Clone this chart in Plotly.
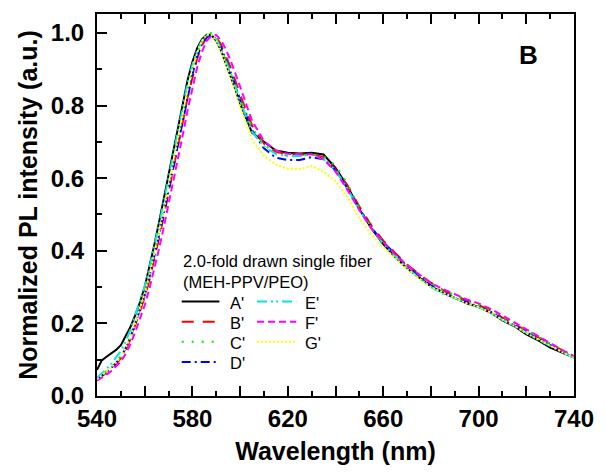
import plotly.graph_objects as go

wavelength = [540, 542, 544, 546, 548, 550, 552, 554, 556, 558, 560, 562, 564, 566, 568, 570,
              572, 574, 576, 578, 580, 582, 584, 586, 588, 590, 592, 594, 596, 598, 600,
              605, 610, 615, 620, 625, 630, 635, 640, 645, 650, 655, 660, 665, 670, 675,
              680, 685, 690, 695, 700, 705, 710, 715, 720, 725, 730, 735, 740]

A_prime = [0.072, 0.098, 0.108, 0.117, 0.127, 0.140, 0.163, 0.190, 0.222, 0.258, 0.300, 0.355,
           0.415, 0.478, 0.545, 0.610, 0.675, 0.745, 0.810, 0.870, 0.920, 0.958, 0.982, 0.995,
           0.994, 0.978, 0.952, 0.918, 0.882, 0.845, 0.805,
           0.725, 0.700, 0.676, 0.670, 0.668, 0.670, 0.665, 0.628, 0.578, 0.515, 0.462, 0.418,
           0.383, 0.352, 0.328, 0.302, 0.285, 0.270, 0.255, 0.245, 0.230, 0.208, 0.192, 0.170,
           0.153, 0.133, 0.120, 0.106]
B_prime = [0.045, 0.054, 0.064, 0.075, 0.088, 0.104, 0.127, 0.156, 0.193, 0.232, 0.272, 0.320,
           0.374, 0.434, 0.495, 0.558, 0.622, 0.690, 0.756, 0.822, 0.880, 0.930, 0.965, 0.988,
           0.995, 0.988, 0.968, 0.938, 0.905, 0.868, 0.830,
           0.745, 0.695, 0.672, 0.666, 0.665, 0.666, 0.658, 0.625, 0.580, 0.522, 0.470, 0.428,
           0.394, 0.362, 0.336, 0.312, 0.292, 0.276, 0.264, 0.250, 0.236, 0.216, 0.198, 0.178,
           0.160, 0.142, 0.124, 0.108]
C_prime = [0.048, 0.058, 0.068, 0.080, 0.094, 0.110, 0.134, 0.164, 0.202, 0.243, 0.284, 0.335,
           0.390, 0.451, 0.514, 0.579, 0.644, 0.714, 0.780, 0.844, 0.898, 0.945, 0.976, 0.994,
           1.000, 0.987, 0.962, 0.930, 0.895, 0.858, 0.820,
           0.738, 0.692, 0.668, 0.662, 0.662, 0.666, 0.660, 0.635, 0.585, 0.518, 0.465, 0.424,
           0.390, 0.360, 0.334, 0.310, 0.290, 0.279, 0.265, 0.250, 0.238, 0.218, 0.202, 0.182,
           0.163, 0.145, 0.128, 0.108]
D_prime = [0.045, 0.055, 0.066, 0.077, 0.091, 0.107, 0.131, 0.161, 0.198, 0.238, 0.277, 0.327,
           0.381, 0.441, 0.502, 0.566, 0.630, 0.700, 0.765, 0.830, 0.885, 0.935, 0.968, 0.988,
           0.993, 0.982, 0.960, 0.928, 0.893, 0.855, 0.815,
           0.732, 0.682, 0.656, 0.650, 0.650, 0.658, 0.652, 0.622, 0.572, 0.515, 0.464, 0.424,
           0.390, 0.358, 0.330, 0.305, 0.286, 0.270, 0.259, 0.245, 0.232, 0.212, 0.195, 0.176,
           0.158, 0.139, 0.122, 0.105]
E_prime = [0.050, 0.062, 0.075, 0.089, 0.105, 0.124, 0.150, 0.182, 0.222, 0.263, 0.302, 0.354,
           0.410, 0.471, 0.535, 0.600, 0.665, 0.735, 0.800, 0.862, 0.912, 0.952, 0.978, 0.993,
           0.996, 0.982, 0.958, 0.925, 0.890, 0.852, 0.812,
           0.728, 0.688, 0.666, 0.661, 0.661, 0.665, 0.652, 0.622, 0.572, 0.512, 0.462, 0.420,
           0.385, 0.353, 0.325, 0.300, 0.282, 0.270, 0.255, 0.244, 0.230, 0.210, 0.193, 0.173,
           0.155, 0.138, 0.121, 0.105]
F_prime = [0.042, 0.050, 0.059, 0.069, 0.081, 0.095, 0.116, 0.142, 0.176, 0.212, 0.250, 0.296,
           0.348, 0.405, 0.465, 0.527, 0.590, 0.655, 0.720, 0.788, 0.850, 0.905, 0.948, 0.978,
           0.992, 0.994, 0.980, 0.955, 0.924, 0.890, 0.852,
           0.758, 0.702, 0.676, 0.667, 0.666, 0.666, 0.652, 0.618, 0.568, 0.512, 0.462, 0.424,
           0.390, 0.360, 0.335, 0.311, 0.295, 0.280, 0.266, 0.255, 0.240, 0.222, 0.203, 0.183,
           0.165, 0.146, 0.127, 0.110]
G_prime = [0.046, 0.057, 0.067, 0.079, 0.092, 0.108, 0.132, 0.162, 0.200, 0.241, 0.282, 0.333,
           0.388, 0.449, 0.512, 0.578, 0.644, 0.714, 0.780, 0.845, 0.900, 0.946, 0.978, 0.995,
           0.995, 0.978, 0.950, 0.915, 0.878, 0.838, 0.798,
           0.705, 0.662, 0.637, 0.626, 0.625, 0.634, 0.617, 0.592, 0.548, 0.490, 0.445, 0.410,
           0.380, 0.350, 0.324, 0.300, 0.285, 0.270, 0.255, 0.245, 0.230, 0.210, 0.193, 0.173,
           0.157, 0.139, 0.121, 0.105]

series_names = ["A'", "B'", "C'", "D'", "E'", "F'", "G'"]
series_values = [A_prime, B_prime, C_prime, D_prime, E_prime, F_prime, G_prime]
series_colors = ["#000000", "#ff0000", "#00ee00", "#0000ff", "#00e5e5", "#ff00ff", "#ffff00"]
series_dash = ["solid", "12px,9px", "2px,8px", "9px,4px,2px,4px", "10px,4px,2px,3px,2px,4px",
               "7px,4px", "2px,2px"]

legend_title_lines = ["2.0-fold drawn single fiber", "(MEH-PPV/PEO)"]

x_tickvals = [540, 560, 580, 600, 620, 640, 660, 680, 700, 720, 740]
x_ticktext = ["540", "", "580", "", "620", "", "660", "", "700", "", "740"]
y_tickvals = [0.0, 0.2, 0.4, 0.6, 0.8, 1.0]
y_ticktext = ["0.0", "0.2", "0.4", "0.6", "0.8", "1.0"]

fig = go.Figure()
for name, vals, col, dash in zip(series_names, series_values, series_colors, series_dash):
    fig.add_trace(go.Scatter(x=wavelength, y=vals, mode="lines", name=name,
                             line=dict(color=col, width=2, dash=dash), showlegend=False))

FONT = "Liberation Sans, Arial, sans-serif"
LEG_FS = 16.5

# Hand-built legend (two columns under a two-line title), placed in paper coordinates
shapes = []
annotations = []
title_y = [0.353, 0.299]
for txt, yy in zip(legend_title_lines, title_y):
    annotations.append(dict(text=txt, x=0.177, y=yy, xref="paper", yref="paper", showarrow=False,
                            xanchor="left", yanchor="middle", font=dict(size=LEG_FS, family=FONT)))
col_x = [(0.1776, 0.2566, 0.2745), (0.3354, 0.4177, 0.4323)]
row_y = [0.2442, 0.1915, 0.1388, 0.0861]
for i, (name, col, dash) in enumerate(zip(series_names, series_colors, series_dash)):
    c = 0 if i < 4 else 1
    r = i if i < 4 else i - 4
    x0, x1, xt = col_x[c]
    yy = row_y[r]
    shapes.append(dict(type="line", xref="paper", yref="paper", x0=x0, x1=x1, y0=yy + 0.003, y1=yy + 0.003,
                       line=dict(color=col, width=2, dash=dash)))
    annotations.append(dict(text=name, x=xt, y=yy, xref="paper", yref="paper", showarrow=False,
                            xanchor="left", yanchor="middle", font=dict(size=LEG_FS, family=FONT)))

annotations.append(dict(text="B", x=0.905, y=0.893, xref="paper", yref="paper", showarrow=False,
                        xanchor="center", yanchor="middle",
                        font=dict(size=26, family=FONT, weight="bold")))

fig.update_layout(
    width=606, height=473,
    margin=dict(l=97, r=23, t=14, b=70),
    paper_bgcolor="white", plot_bgcolor="white",
    font=dict(family=FONT, color="black"),
    showlegend=False,
    xaxis=dict(range=[540, 740], tickvals=x_tickvals, ticktext=x_ticktext,
               ticks="inside", ticklen=10, tickwidth=2, tickcolor="black",
               minor=dict(dtick=10, tick0=540, ticks="inside", ticklen=5, tickwidth=2, tickcolor="black"),
               showline=True, linewidth=2, linecolor="black", mirror="ticks",
               showgrid=False, zeroline=False,
               tickfont=dict(size=24, family=FONT, weight="bold"),
               title=dict(text="Wavelength (nm)", font=dict(size=25, family=FONT, weight="bold"), standoff=12)),
    yaxis=dict(range=[0, 1.052], tickvals=y_tickvals, ticktext=y_ticktext,
               ticks="inside", ticklen=10, tickwidth=2, tickcolor="black",
               minor=dict(dtick=0.1, tick0=0, ticks="inside", ticklen=5, tickwidth=2, tickcolor="black"),
               showline=True, linewidth=2, linecolor="black", mirror=True,
               showgrid=False, zeroline=False, ticklabelstandoff=6,
               tickfont=dict(size=24, family=FONT, weight="bold"),
               title=dict(text="Normalized PL intensity (a.u.)", font=dict(size=25, family=FONT, weight="bold"), standoff=6)),
    shapes=shapes,
    annotations=annotations,
)

fig.write_html("out.html")
